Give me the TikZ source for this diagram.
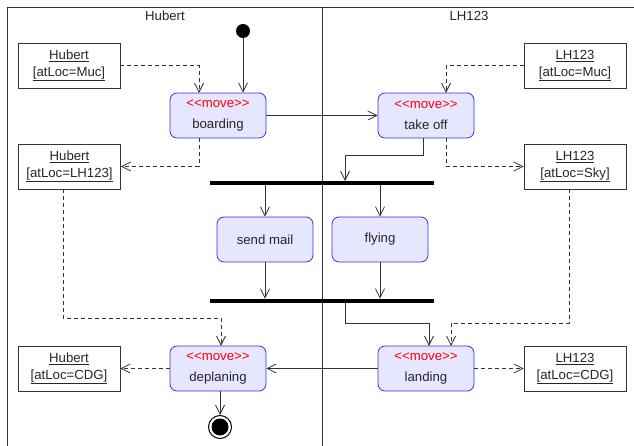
\documentclass[tikz,border=0pt]{standalone}
\usepackage{fontspec}
\setmainfont{Liberation Sans}
\usepackage{xcolor}
\usetikzlibrary{positioning, arrows.meta}
\definecolor{actfill}{HTML}{E6E6FF}
\definecolor{actblue}{HTML}{3030FF}
\definecolor{linegray}{HTML}{333333}
\newcommand{\Stereo}{\textcolor{red}{\textless\kern0pt\textless\kern0pt move\kern0pt\textgreater\kern0pt\textgreater}}
\newcommand{\ObjText}[2]{\underline{#1}\\\underline{[atLoc=#2]}}
\tikzset{
  action/.style={draw=actblue, fill=actfill, rounded corners=7pt, line width=0.8pt,
    minimum width=96pt, minimum height=45pt, align=center, inner sep=2pt},
  objbox/.style={draw=linegray, line width=0.8pt, minimum width=102pt,
    minimum height=45pt, align=center, inner sep=2pt},
  syncbar/.style={fill=black, minimum width=224pt, minimum height=4.5pt, inner sep=0pt},
  flow/.style={draw=linegray, line width=0.8pt, -{Straight Barb[length=9pt,width=9pt]}},
  objflow/.style={flow, dash pattern=on 4pt off 3pt},
}
\begin{document}
\begin{tikzpicture}[x=1pt, y=-1pt, font=\fontsize{13.2}{17}\selectfont, text=black!85]
        \useasboundingbox (0,0) rectangle (634,446);
        % draw swimlanes
        \draw[linegray, line width=0.8pt] (7,446) -- (7,7) -- (634,7);
        \draw[linegray, line width=0.8pt] (322,7) -- (322,446);
        \node (hubertlane) at (165,16) {Hubert};
        \node (planelane) at (469,16) {LH123};
        % initial and final node
        \node (start) [circle, fill=black, minimum size=14pt, inner sep=0pt] at (243,31) {};
        \node (final) [circle, draw=black, line width=1pt, minimum size=23pt, inner sep=0pt] at (220,427) {};
        \fill (final) circle (8.5pt);
        % actions
        \node[action] (boarding) at (218,115.5) {\Stereo\\[4pt]boarding};
        \node[action] (takeoff) at (426,115.5) {\Stereo\\[4pt]take off};
        \node[action] (sendmail) at (265,239.5) {send mail};
        \node[action] (flying) at (380,239.5) {flying};
        \node[action] (deplaning) at (218,368.5) {\Stereo\\[4pt]deplaning};
        \node[action] (landing) at (426,368.5) {\Stereo\\[4pt]landing};
        % fork and join
        \node[syncbar] (fork) at (322,183) {};
        \node[syncbar] (join) at (322,301) {};
        % objects
        \node[objbox] (hmuc) at (69,65.5) {\ObjText{Hubert}{Muc}};
        \node[objbox] (hlh) at (69.5,166.5) {\ObjText{Hubert}{LH123}};
        \node[objbox] (hcdg) at (69,368.5) {\ObjText{Hubert}{CDG}};
        \node[objbox] (lmuc) at (575,65.5) {\ObjText{LH123}{Muc}};
        \node[objbox] (lsky) at (575,166.5) {\ObjText{LH123}{Sky}};
        \node[objbox] (lcdg) at (575,368.5) {\ObjText{LH123}{CDG}};
        % connector ends
        \coordinate (boardIn) at (199,93);
        \coordinate (takeIn) at (446,93);
        \coordinate (takeOut) at (423,138);
        \coordinate (forkIn) at (345,181);
        \coordinate (landIn) at (429,346);
        \coordinate (landObjIn) at (451,346);
        \coordinate (skyOut) at (569,189);
        \coordinate (lhOut) at (63,189);
        \coordinate (deplIn) at (221,346);
        % control flow
        \draw[flow] (start) -- (start |- boarding.north);
        \draw[flow] (boarding.east) -- (takeoff.west);
        \draw[flow] (takeOut) -- ++(0,17) -| (forkIn);
        \draw[flow] (fork.south -| sendmail) -- (sendmail.north);
        \draw[flow] (fork.south -| flying) -- (flying.north);
        \draw[flow] (sendmail.south) -- (sendmail.south |- join.north);
        \draw[flow] (flying.south) -- (flying.south |- join.north);
        \draw[flow] (join.south -| forkIn) -- ++(0,20) -| (landIn);
        \draw[flow] (landing.west) -- (deplaning.east);
        \draw[flow] (deplaning.south -| final) -- (final.north);
        % object flow
        \draw[objflow] (hmuc.east) -| (boardIn);
        \draw[objflow] (lmuc.west) -| (takeIn);
        \draw[objflow] (boardIn |- boarding.south) |- (hlh.east);
        \draw[objflow] (takeIn |- takeoff.south) |- (lsky.west);
        \draw[objflow] (lhOut) -- ++(0,129) -| (deplIn);
        \draw[objflow] (skyOut) -- ++(0,134) -| (landObjIn);
        \draw[objflow] (deplaning.west) -- (hcdg.east);
        \draw[objflow] (landing.east) -- (lcdg.west);
    \end{tikzpicture}
\end{document}
